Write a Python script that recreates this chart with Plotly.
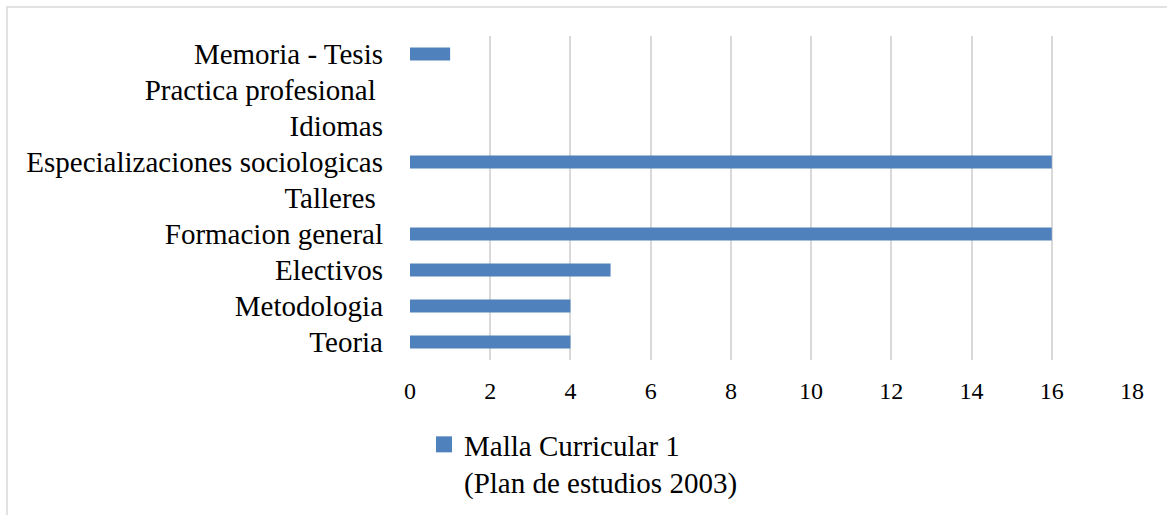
import plotly.graph_objects as go

categories = ["Teoria", "Metodologia", "Electivos", "Formacion general", "Talleres ",
              "Especializaciones sociologicas", "Idiomas", "Practica profesional ", "Memoria - Tesis"]
values = [4, 4, 5, 16, 0, 16, 0, 0, 1]
series_name = "Malla Curricular 1<br>(Plan de estudios 2003)"
x_ticks = [0, 2, 4, 6, 8, 10, 12, 14, 16, 18]
bar_color = "#4f81bd"

W, H = 1167, 515
L, R, T, B = 410, 35, 36, 155
pw, ph = W - L - R, H - T - B

def px_to_paper_x(px):
    return (px - L) / pw

def px_to_paper_y(py):
    return (H - B - py) / ph

fig = go.Figure()
fig.add_trace(go.Bar(
    y=categories, x=values, orientation="h", name=series_name,
    marker=dict(color=bar_color, line=dict(width=0)), showlegend=False,
))
# legend entry (square swatch)
fig.add_trace(go.Scatter(
    x=[None], y=[None], mode="markers", name=series_name,
    marker=dict(symbol="square", size=16, color=bar_color, line=dict(width=0)),
    showlegend=True, hoverinfo="skip",
))

fig.update_layout(
    width=W, height=H,
    margin=dict(l=L, r=R, t=T, b=B, autoexpand=False),
    paper_bgcolor="white", plot_bgcolor="white",
    bargap=0.64,
    font=dict(family="Liberation Serif", color="black"),
    xaxis=dict(range=[0, 18], tickvals=x_ticks, showgrid=True, gridcolor="#d9d9d9",
               gridwidth=1.5, zeroline=False, showline=False, ticks="", automargin=False,
               tickfont=dict(family="Liberation Serif", size=24, color="black"),
               ticklabelstandoff=14, fixedrange=True),
    yaxis=dict(type="category", categoryorder="array", categoryarray=categories,
               range=[-0.5, 8.5], showgrid=False, zeroline=False, showline=False, ticks="",
               automargin=False, fixedrange=True,
               tickfont=dict(family="Liberation Serif", size=29, color="black"),
               ticklabelstandoff=26),
    legend=dict(orientation="h", xref="container", yref="container",
                x=424 / W, y=1 - 419 / H,
                xanchor="left", yanchor="top", valign="top",
                font=dict(family="Liberation Serif", size=29, color="black"),
                itemwidth=30),
    shapes=[dict(type="rect", xref="paper", yref="paper",
                 x0=px_to_paper_x(7), x1=px_to_paper_x(W + 20),
                 y0=px_to_paper_y(H + 20), y1=px_to_paper_y(7),
                 line=dict(color="#d9d9d9", width=1.5), fillcolor="rgba(0,0,0,0)", layer="below")],
)

fig.write_html("out.html", config={"displayModeBar": False},
               post_script="document.body.style.margin='0';")
